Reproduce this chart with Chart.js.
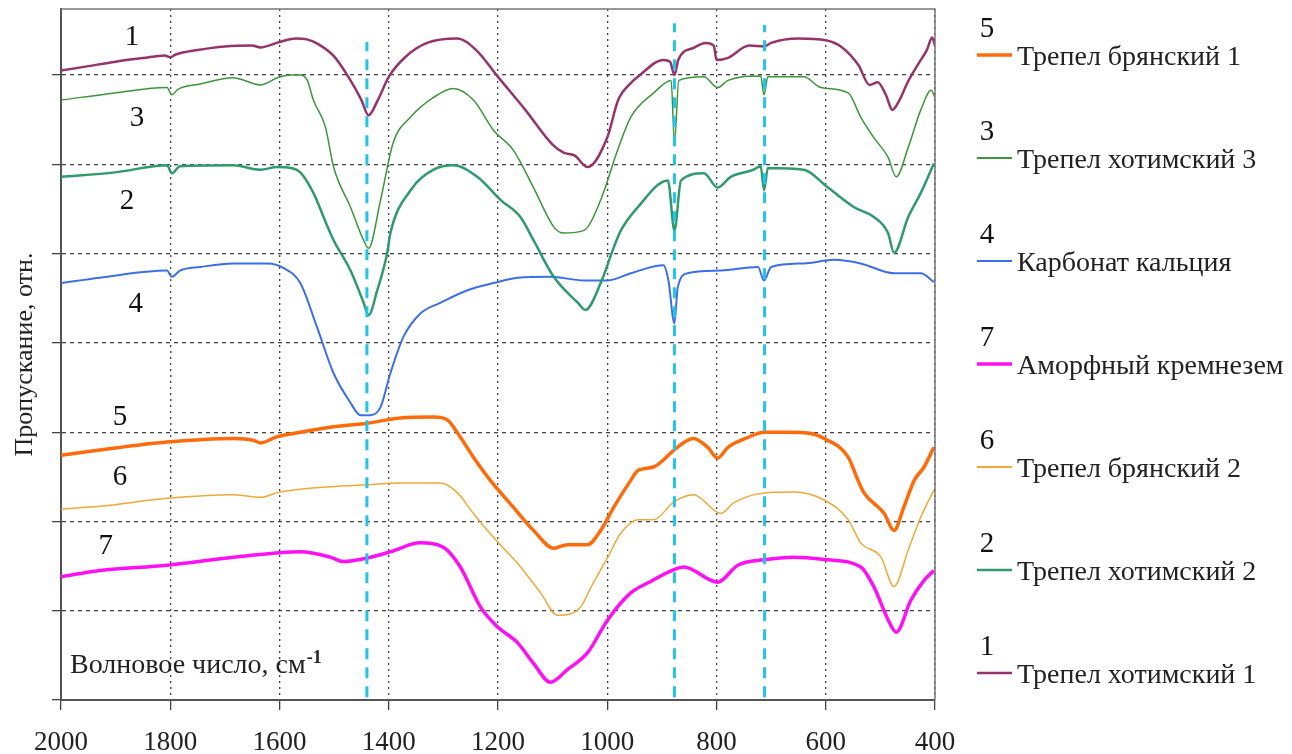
<!DOCTYPE html>
<html>
<head>
<meta charset="utf-8">
<script src="https://cdn.jsdelivr.net/npm/chart.js@4.4.1/dist/chart.umd.min.js"></script>
<style>
  html, body { margin: 0; padding: 0; background: #fff; }
  #wrap { width: 1292px; height: 754px; }
</style>
</head>
<body>
<div id="wrap"><canvas id="ftir" width="1292" height="754"></canvas></div>
<script>
// IR spectra, wavenumber (cm-1) vs relative transmission
const wn1 = [2000, 1950, 1900, 1850, 1810, 1800, 1790, 1750, 1700, 1650, 1635, 1600, 1570, 1550, 1530, 1500, 1470, 1450, 1437, 1420, 1400, 1370, 1330, 1275, 1240, 1200, 1150, 1100, 1080, 1060, 1036, 1000, 980, 957, 944, 897, 885, 877, 870, 840, 820, 805, 800, 780, 740, 712, 700, 650, 600, 570, 540, 520, 505, 490, 478, 465, 450, 430, 415, 405, 400];
const tr1 = [7.05, 7.10, 7.15, 7.19, 7.22, 7.20, 7.23, 7.28, 7.32, 7.33, 7.31, 7.37, 7.41, 7.40, 7.35, 7.21, 6.94, 6.72, 6.55, 6.72, 6.98, 7.20, 7.36, 7.41, 7.28, 6.98, 6.61, 6.22, 6.13, 6.10, 5.97, 6.30, 6.72, 6.91, 6.98, 7.17, 7.15, 7.00, 7.17, 7.31, 7.36, 7.33, 7.17, 7.19, 7.33, 7.32, 7.36, 7.41, 7.39, 7.31, 7.11, 6.89, 6.92, 6.78, 6.61, 6.72, 6.92, 7.13, 7.28, 7.42, 7.33];

const wn2 = [2000, 1901, 1806, 1797, 1782, 1685, 1635, 1604, 1580, 1562, 1538, 1512, 1501, 1470, 1446, 1437, 1421, 1403, 1397, 1360, 1318, 1282, 1238, 1195, 1159, 1135, 1098, 1054, 1040, 1012, 988, 975, 944, 889, 877, 865, 823, 798, 774, 732, 719, 713, 706, 640, 596, 548, 512, 486, 475, 449, 426, 402];
const tr2 = [5.86, 5.91, 5.99, 5.90, 5.98, 5.99, 5.94, 5.97, 5.96, 5.91, 5.68, 5.30, 5.15, 4.81, 4.45, 4.31, 4.59, 5.00, 5.23, 5.71, 5.94, 5.99, 5.86, 5.60, 5.41, 5.15, 4.74, 4.45, 4.37, 4.67, 5.07, 5.26, 5.52, 5.82, 5.26, 5.82, 5.90, 5.74, 5.86, 5.94, 5.98, 5.71, 5.96, 5.94, 5.74, 5.52, 5.41, 5.23, 5.01, 5.41, 5.68, 6.01];

const wn3 = [2000, 1901, 1806, 1797, 1786, 1745, 1685, 1635, 1604, 1580, 1562, 1549, 1538, 1516, 1501, 1470, 1446, 1437, 1415, 1392, 1360, 1318, 1282, 1245, 1208, 1172, 1135, 1098, 1080, 1043, 1012, 981, 957, 915, 883, 877, 869, 823, 798, 779, 719, 713, 706, 640, 609, 559, 536, 512, 486, 471, 449, 426, 407, 400];
const tr3 = [6.72, 6.80, 6.86, 6.78, 6.84, 6.90, 6.97, 6.89, 6.97, 7.00, 7.00, 6.94, 6.72, 6.42, 5.97, 5.52, 5.15, 5.06, 5.60, 6.24, 6.53, 6.75, 6.85, 6.72, 6.38, 6.16, 5.74, 5.30, 5.23, 5.26, 5.60, 6.16, 6.53, 6.80, 6.94, 6.24, 6.94, 6.98, 6.86, 6.94, 6.99, 6.78, 6.98, 6.98, 6.86, 6.80, 6.53, 6.30, 6.08, 5.86, 6.19, 6.61, 6.83, 6.75];

const wn4 = [2000, 1929, 1806, 1797, 1782, 1745, 1685, 1622, 1593, 1562, 1531, 1501, 1470, 1452, 1434, 1415, 1397, 1373, 1342, 1305, 1256, 1208, 1164, 1104, 1043, 999, 957, 897, 888, 877, 871, 853, 792, 724, 713, 700, 640, 585, 536, 475, 426, 402];
const tr4 = [4.67, 4.73, 4.81, 4.74, 4.81, 4.85, 4.89, 4.89, 4.84, 4.67, 4.17, 3.66, 3.33, 3.19, 3.19, 3.28, 3.66, 4.07, 4.33, 4.45, 4.59, 4.67, 4.73, 4.74, 4.70, 4.70, 4.78, 4.87, 4.70, 4.22, 4.62, 4.78, 4.81, 4.85, 4.70, 4.85, 4.89, 4.93, 4.89, 4.78, 4.78, 4.68];

const wn5 = [2000, 1929, 1806, 1685, 1648, 1635, 1604, 1562, 1501, 1439, 1379, 1318, 1293, 1274, 1245, 1214, 1172, 1135, 1098, 1073, 1036, 1012, 988, 957, 944, 915, 897, 878, 842, 816, 798, 779, 743, 713, 669, 633, 603, 559, 541, 530, 493, 475, 457, 438, 420, 402];
const tr5 = [2.74, 2.80, 2.89, 2.93, 2.91, 2.88, 2.95, 3.00, 3.06, 3.10, 3.16, 3.17, 3.14, 2.99, 2.72, 2.46, 2.16, 1.90, 1.70, 1.74, 1.74, 1.90, 2.16, 2.46, 2.57, 2.61, 2.69, 2.80, 2.93, 2.83, 2.71, 2.83, 2.94, 3.00, 3.00, 2.99, 2.93, 2.72, 2.46, 2.32, 2.09, 1.90, 2.16, 2.46, 2.61, 2.83];

const wn6 = [2000, 1929, 1806, 1685, 1635, 1599, 1507, 1439, 1379, 1305, 1274, 1245, 1208, 1164, 1122, 1091, 1049, 1030, 999, 975, 944, 915, 878, 842, 792, 768, 713, 658, 603, 559, 536, 499, 475, 449, 426, 402];
const tr6 = [2.14, 2.17, 2.26, 2.30, 2.27, 2.33, 2.39, 2.41, 2.43, 2.43, 2.32, 2.09, 1.82, 1.53, 1.20, 0.95, 1.04, 1.26, 1.60, 1.87, 2.02, 2.02, 2.22, 2.30, 2.09, 2.21, 2.32, 2.33, 2.24, 2.02, 1.76, 1.60, 1.27, 1.68, 2.05, 2.35];

const wn7 = [2000, 1929, 1806, 1685, 1599, 1562, 1507, 1483, 1439, 1397, 1342, 1300, 1269, 1232, 1201, 1164, 1135, 1104, 1073, 1036, 999, 957, 926, 878, 860, 798, 761, 713, 658, 596, 536, 512, 486, 471, 444, 420, 402];
const tr7 = [1.38, 1.45, 1.51, 1.60, 1.65, 1.66, 1.60, 1.55, 1.59, 1.66, 1.76, 1.71, 1.49, 1.04, 0.82, 0.64, 0.41, 0.20, 0.34, 0.53, 0.90, 1.20, 1.31, 1.46, 1.49, 1.32, 1.51, 1.57, 1.60, 1.57, 1.49, 1.27, 0.90, 0.76, 1.12, 1.34, 1.45];

const seriesNames = ['Трепел хотимский 1', 'Трепел хотимский 2', 'Трепел хотимский 3', 'Карбонат кальция',
                     'Трепел брянский 1', 'Трепел брянский 2', 'Аморфный кремнезем'];
const seriesNumbers = ['1', '2', '3', '4', '5', '6', '7'];
const legendOrder = [5, 3, 4, 7, 6, 2, 1];

// marked absorption bands (carbonate)
const peakLines = [1440, 877, 712];
const peakTops = [7.37, 7.58, 7.56];
const peakBottom = 0.03;

const allWn = [wn1, wn2, wn3, wn4, wn5, wn6, wn7];
const allTr = [tr1, tr2, tr3, tr4, tr5, tr6, tr7];

const colors = ['#96336a', '#2f9a6c', '#3a963a', '#3b6fe8', '#ff6a0a', '#f0a838', '#ff10f4'];
const widths = [2.5, 2.5, 1.5, 2, 3.5, 1.5, 3.5];

// where the curve numbers sit on the plot
const labelWn = [1870, 1879, 1861, 1863, 1892, 1892, 1918];
const labelTr = [7.42, 5.58, 6.51, 4.43, 3.16, 2.49, 1.72];

const serif = '"Liberation Serif", "Times New Roman", serif';

const datasets = allWn.map((wn, i) => ({
    label: seriesNames[i],
    data: wn.map((w, k) => ({ x: w, y: allTr[i][k] })),
    borderColor: colors[i],
    borderWidth: widths[i],
    pointRadius: 0,
    fill: false,
    cubicInterpolationMode: 'monotone',
    order: 1
}));

peakLines.forEach((w, i) => {
    datasets.push({
        label: 'band ' + w,
        data: [{ x: w, y: peakBottom }, { x: w, y: peakTops[i] }],
        borderColor: '#22c4ec',
        borderWidth: 3,
        borderDash: [11, 8],
        pointRadius: 0,
        fill: false,
        order: 0
    });
});

const decorations = {
    id: 'decorations',
    afterDraw(chart) {
        const { ctx, chartArea: a, scales: { x, y } } = chart;
        ctx.save();

        // top and right frame
        ctx.strokeStyle = '#777';
        ctx.lineWidth = 1.5;
        ctx.beginPath();
        ctx.moveTo(a.left, a.top);
        ctx.lineTo(a.right, a.top);
        ctx.lineTo(a.right, a.bottom);
        ctx.stroke();

        // curve numbers
        ctx.fillStyle = '#111';
        ctx.font = '29px ' + serif;
        ctx.textAlign = 'center';
        ctx.textBaseline = 'middle';
        labelWn.forEach((w, i) => {
            ctx.fillText(seriesNumbers[i], x.getPixelForValue(w), y.getPixelForValue(labelTr[i]));
        });

        // x axis name inside the plot
        ctx.textAlign = 'left';
        ctx.textBaseline = 'alphabetic';
        ctx.font = '28px ' + serif;
        const note = 'Волновое число, см';
        const nx = a.left + 9;
        const ny = a.bottom - 27;
        ctx.fillStyle = '#222';
        ctx.fillText(note, nx, ny);
        const nw = ctx.measureText(note).width;
        ctx.font = 'bold 18px ' + serif;
        ctx.fillText('-1', nx + nw + 1, ny - 10);

        // legend on the right
        legendOrder.forEach((n, k) => {
            const i = n - 1;
            const ly = a.top + 46 + k * 103;
            ctx.strokeStyle = colors[i];
            ctx.lineWidth = Math.max(widths[i], 2);
            ctx.beginPath();
            ctx.moveTo(a.right + 42, ly);
            ctx.lineTo(a.right + 77, ly);
            ctx.stroke();

            ctx.fillStyle = '#111';
            ctx.font = '29px ' + serif;
            ctx.textAlign = 'center';
            ctx.textBaseline = 'middle';
            ctx.fillText(seriesNumbers[i], a.right + 52, ly - 26);

            ctx.fillStyle = '#222';
            ctx.font = '28px ' + serif;
            ctx.textAlign = 'left';
            ctx.fillText(seriesNames[i], a.right + 82, ly + 3);
        });

        ctx.restore();
    }
};

new Chart(document.getElementById('ftir'), {
    type: 'line',
    data: { datasets: datasets },
    options: {
        responsive: false,
        animation: false,
        layout: { padding: { left: 0, top: 9, right: 357, bottom: 0 } },
        plugins: {
            legend: { display: false },
            tooltip: { enabled: false }
        },
        scales: {
            x: {
                type: 'linear',
                reverse: true,
                min: 400,
                max: 2000,
                ticks: {
                    stepSize: 200,
                    color: '#222',
                    padding: 17,
                    maxRotation: 0,
                    font: { family: serif, size: 27 },
                    callback: (v) => String(v)
                },
                grid: { color: '#444', lineWidth: 1.3, tickLength: 10 },
                border: { color: '#555', width: 2, dash: [2, 4] },
                afterFit(scale) { scale.height = 54; }
            },
            y: {
                min: 0,
                max: 7.74,
                ticks: { stepSize: 1, display: false, includeBounds: false },
                grid: { color: '#444', lineWidth: 1.3, tickLength: 9 },
                border: { color: '#555', width: 2, dash: [4, 4] },
                title: {
                    display: true,
                    text: 'Пропускание, отн.',
                    color: '#222',
                    padding: { top: 10, bottom: 0 },
                    font: { family: serif, size: 26 }
                },
                afterFit(scale) { scale.width = 61; }
            }
        }
    },
    plugins: [decorations]
});
</script>
</body>
</html>
